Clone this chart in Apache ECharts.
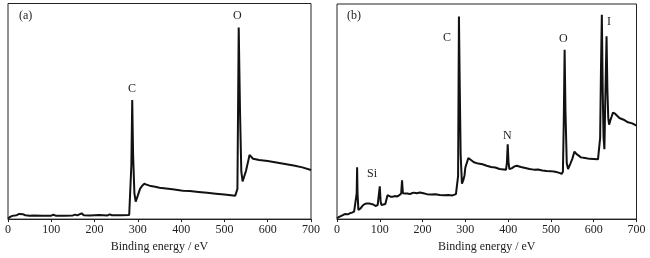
<!DOCTYPE html>
<html>
<head>
<meta charset="utf-8">
<script src="https://cdn.jsdelivr.net/npm/echarts@6/dist/echarts.min.js"></script>
<style>html,body{margin:0;padding:0;background:#fff;}#c{width:650px;height:258px;}</style>
</head>
<body>
<div id="c"></div>
<script>
// Binding energy (eV) and intensity (a.u.)
const energyA = [0,5,10,20,26,30,34,40,50,60,80,100,105,110,130,150,155,160,170,175,190,210,230,235,240,260,280,283,285,287,289,292,295,300,305,310,315,320,330,340,350,360,380,400,402,405,420,440,460,480,500,515,525,528,530,533,536,539,542,546,550,555,558,562,566,572,580,590,600,620,640,660,680,700];
const intensA = [0.3,1.0,1.5,1.8,2.4,3.0,2.3,1.8,1.6,1.7,1.5,1.6,2.0,1.6,1.5,1.7,2.1,1.7,2.7,1.8,1.7,1.9,1.7,2.2,1.8,1.8,1.9,2.1,25,55.2,30,12,8.1,11,14,15.5,16.4,16,15.3,15,14.5,14.3,13.8,13.3,14,13.2,13,12.6,12.2,11.8,11.4,11.1,10.8,11.5,14,88.9,50,22,17.5,20,22.5,27,29.8,29,28,27.8,27.4,27.2,26.9,26.3,25.6,24.9,24,22.8];

const energyB = [0,5,10,15,20,25,30,35,40,44,46,47,48,50,52,55,60,65,70,75,80,85,90,95,98,100,102,104,108,113,118,121,125,130,135,140,145,150,152,154,157,160,165,170,175,180,183,186,190,194,198,202,210,220,230,240,250,260,270,278,281,283,285,287,289,292,295,298,300,304,307,310,320,330,340,350,360,370,380,390,395,397,399,401,403,408,415,420,430,440,450,460,470,480,490,500,510,520,525,528,530,532,534,537,540,545,550,555,560,565,570,580,590,600,610,613,615,617,619,621,623,625,627,630,632,634,636,639,642,645,650,660,670,680,690,700];
const intensB = [0.5,1.0,1.5,2.0,2.4,2.2,2.7,3.0,3.5,3.9,12,24.1,12,4.3,4.0,5.0,6.3,7.0,7.3,7.3,7.0,6.8,6.1,6.5,7,15.2,8,6.6,6.5,7.0,11.1,10.8,10.4,10.4,10.7,10.5,11.0,11.9,18,12,11.6,11.9,11.9,11.6,12.0,12.3,13,12.0,11.7,12.4,12.7,12.0,11.6,11.4,11.6,11.2,11.1,11.2,11.0,11.6,12.5,20,94.2,60,30,16.5,18,20.3,24,26.5,28.4,28,26.4,25.8,25.5,24.8,24.2,24.0,23.3,23.1,22.9,26,34.8,26,23.3,23.6,24.5,24.8,24.2,23.8,23.3,23.0,23.1,22.6,22.4,22.3,22.0,21.5,21,22,45,78.7,50,26,23.3,25.6,28,31.4,30.2,29.5,28.7,28.4,28.0,27.9,27.8,28.5,37.8,70,95,60,38,32.5,55,85,60,47,43.9,46,47.7,49.5,49,47,46.2,45,44.5,43.4];

const tickLabels = ['0','100','200','300','400','500','600','700'];

function toPairs(xs, ys){ return xs.map((x,i)=>[x, ys[i]]); }

const chart = echarts.init(document.getElementById('c'), null, {renderer:'canvas'});
const FONT = 'Liberation Serif';

function xAxisCfg(idx){
  return {
    gridIndex: idx, type:'value', min:0, max:700, interval:100,
    axisLine:{show:true, lineStyle:{color:'#222', width:1}},
    axisTick:{show:true, length:3, lineStyle:{color:'#222', width:1}},
    axisLabel:{show:true, color:'#222', fontFamily:FONT, fontSize:12, margin:5,
      formatter:(v)=> tickLabels[Math.round(v/100)]},
    splitLine:{show:false},
    name:'Binding energy / eV', nameLocation:'middle', nameGap:21,
    nameTextStyle:{color:'#222', fontFamily:FONT, fontSize:12}
  };
}
function yAxisCfg(idx){
  return {gridIndex:idx, type:'value', min:0, max:100,
    axisLine:{show:false}, axisTick:{show:false}, axisLabel:{show:false}, splitLine:{show:false}};
}
const txt = (x,y,t)=>({type:'text', left:x, top:y, style:{text:t, fill:'#222', font:'12px "Liberation Serif"'}});

chart.setOption({
  animation:false,
  grid:[
    {left:8, right:339, top:3.5, bottom:35, show:true, borderColor:'#222', borderWidth:1, backgroundColor:'transparent'},
    {left:337, right:13.5, top:4, bottom:35, show:true, borderColor:'#222', borderWidth:1, backgroundColor:'transparent'}
  ],
  xAxis:[xAxisCfg(0), xAxisCfg(1)],
  yAxis:[yAxisCfg(0), yAxisCfg(1)],
  series:[
    {type:'line', xAxisIndex:0, yAxisIndex:0, data:toPairs(energyA,intensA), symbol:'none',
      lineStyle:{color:'#111', width:2}, clip:true},
    {type:'line', xAxisIndex:1, yAxisIndex:1, data:toPairs(energyB,intensB), symbol:'none',
      lineStyle:{color:'#111', width:2}, clip:true}
  ],
  graphic:[
    txt(19,10,'(a)'), txt(128,83,'C'), txt(233,10,'O'),
    txt(347,10,'(b)'), txt(443,32,'C'), txt(503,130,'N'), txt(559,33,'O'), txt(607,16,'I'), txt(367,168,'Si')
  ]
});
</script>
</body>
</html>
